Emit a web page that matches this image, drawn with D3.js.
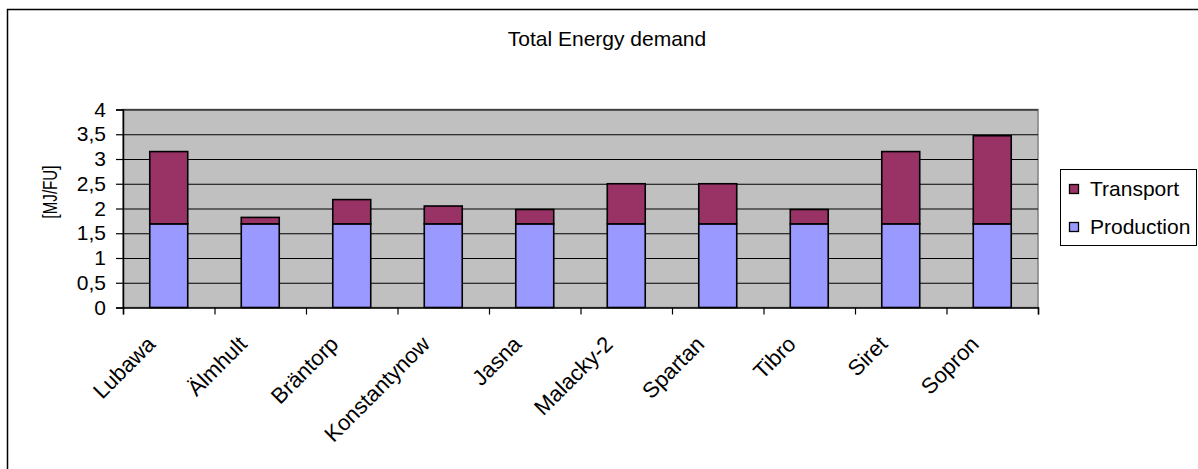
<!DOCTYPE html>
<html>
<head>
<meta charset="utf-8">
<script src="https://cdn.jsdelivr.net/npm/d3@7"></script>
<style>
  html, body { margin: 0; padding: 0; background: #fff; }
  svg { display: block; }
  text { font-family: "Liberation Sans", Arial, sans-serif; fill: #000; }
</style>
</head>
<body>
<svg id="chart" width="1198" height="469"></svg>
<script>
// Sites and energy demand per functional unit
const categories = ["Lubawa", "Älmhult", "Bräntorp", "Konstantynow", "Jasna",
                    "Malacky-2", "Spartan", "Tibro", "Siret", "Sopron"];
const production = [1.69, 1.69, 1.69, 1.69, 1.69, 1.69, 1.69, 1.69, 1.69, 1.69];
const transport  = [1.46, 0.13, 0.49, 0.36, 0.29, 0.81, 0.81, 0.29, 1.46, 1.78];
const yTicks = [0, 0.5, 1, 1.5, 2, 2.5, 3, 3.5, 4];
const seriesNames = ["Production", "Transport"];
const colors = { Production: "#9999FF", Transport: "#993366" };

const svg = d3.select("#chart");
const plot = { left: 123, right: 1038, top: 109.5, bottom: 307.5 };
const fontSize = 21;

// outer chart frame (runs off the right and bottom edges)
svg.append("rect")
  .attr("x", 7.5).attr("y", 9.5)
  .attr("width", 1300).attr("height", 600)
  .attr("fill", "#fff").attr("stroke", "#000").attr("stroke-width", 1.5);

// title
svg.append("text")
  .attr("x", 607).attr("y", 46)
  .attr("text-anchor", "middle")
  .style("font-size", fontSize + "px")
  .text("Total Energy demand");

const y = d3.scaleLinear().domain([0, 4]).range([plot.bottom, plot.top]);
const x = d3.scaleBand().domain(categories).range([plot.left, plot.right]).padding(0);
const xEdges = d3.scaleLinear().domain([0, categories.length]).range([plot.left, plot.right]);

// plot background
svg.append("rect")
  .attr("x", plot.left).attr("y", plot.top)
  .attr("width", plot.right - plot.left).attr("height", plot.bottom - plot.top)
  .attr("fill", "#C0C0C0").attr("stroke", "#808080").attr("stroke-width", 1.5);

// horizontal gridlines
svg.append("g")
  .attr("transform", `translate(${plot.left},0)`)
  .call(d3.axisLeft(y).tickValues(yTicks.slice(1)).tickSize(-(plot.right - plot.left)).tickFormat(""))
  .call(g => g.select(".domain").remove())
  .call(g => g.selectAll("line").attr("stroke", "#000").attr("stroke-width", 1));

// stacked bars
const rows = categories.map((c, i) => ({ cat: c, Production: production[i], Transport: transport[i] }));
const stack = d3.stack().keys(seriesNames)(rows);
const barW = x.bandwidth() * 0.415;

svg.append("g").selectAll("g")
  .data(stack)
  .join("g")
    .attr("fill", d => colors[d.key])
  .selectAll("rect")
  .data(d => d)
  .join("rect")
    .attr("x", d => x(d.data.cat) + (x.bandwidth() - barW) / 2)
    .attr("y", d => y(d[1]))
    .attr("width", barW)
    .attr("height", d => y(d[0]) - y(d[1]))
    .attr("stroke", "#000")
    .attr("stroke-width", 1.6);

// y axis
const yAxis = svg.append("g")
  .attr("transform", `translate(${plot.left},0)`)
  .call(d3.axisLeft(y).tickValues(yTicks).tickSize(7).tickPadding(10)
    .tickFormat(d => String(d).replace(".", ",")));
yAxis.select(".domain").attr("stroke", "#000").attr("stroke-width", 1.5);
yAxis.selectAll("line").attr("stroke", "#000").attr("stroke-width", 1.2);
yAxis.selectAll("text")
  .style("font-size", fontSize + "px")
  .style("font-family", "'Liberation Sans', Arial, sans-serif")
  .attr("fill", "#000");

// x axis: ticks at category boundaries
const xAxis = svg.append("g")
  .attr("transform", `translate(0,${plot.bottom})`)
  .call(d3.axisBottom(xEdges).tickValues(d3.range(categories.length + 1)).tickSize(7).tickFormat(""));
xAxis.select(".domain").attr("stroke", "#000").attr("stroke-width", 1.5);
xAxis.selectAll("line").attr("stroke", "#000").attr("stroke-width", 1.2);

// rotated category labels
svg.append("g").selectAll("text")
  .data(categories)
  .join("text")
    .attr("transform", d => `translate(${x(d) + x.bandwidth() / 2 - 12},${plot.bottom + 38}) rotate(-45)`)
    .attr("text-anchor", "end")
    .style("font-size", "22px")
    .text(d => d);

// y axis title
svg.append("text")
  .attr("transform", "translate(57,192) rotate(-90)")
  .attr("text-anchor", "middle")
  .attr("textLength", 53)
  .attr("lengthAdjust", "spacingAndGlyphs")
  .style("font-size", "21px")
  .text("[MJ/FU]");

// legend
const legend = svg.append("g");
legend.append("rect")
  .attr("x", 1060.5).attr("y", 169.5)
  .attr("width", 136).attr("height", 76)
  .attr("fill", "#fff").attr("stroke", "#000").attr("stroke-width", 1);

const legendItems = ["Transport", "Production"];
legend.selectAll("g.item")
  .data(legendItems)
  .join("g")
    .attr("class", "item")
    .attr("transform", (d, i) => `translate(1069,${184 + i * 38})`)
    .each(function (d) {
      const g = d3.select(this);
      g.append("rect")
        .attr("x", 0.5).attr("y", 0.5)
        .attr("width", 9).attr("height", 9)
        .attr("fill", colors[d]).attr("stroke", "#000").attr("stroke-width", 1.3);
      g.append("text")
        .attr("x", 21).attr("y", 12)
        .style("font-size", fontSize + "px")
        .text(d);
    });
</script>
</body>
</html>
